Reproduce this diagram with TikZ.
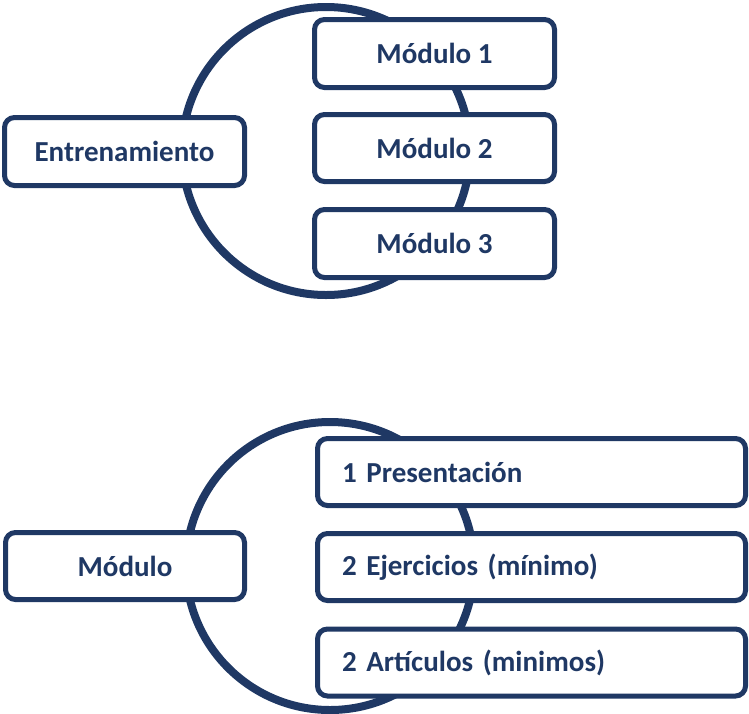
\documentclass[tikz,border=0pt]{standalone}
\usepackage{fontspec}
\setmainfont{Carlito}
\definecolor{navy}{HTML}{1F3864}
\begin{document}
\begin{tikzpicture}[x=1pt,y=-1pt,
  ring/.style={circle, draw=navy, line width=8pt, minimum size=288pt, inner sep=0pt},
  box/.style={rectangle, rounded corners=10pt, draw=navy, line width=5pt, fill=white,
    text=navy, font=\fontsize{29}{34}\selectfont\bfseries, inner sep=0pt,
    minimum width=240pt, minimum height=68pt},
  lbox/.style={box, text width=379pt, align=left, inner xsep=24.5pt, inner ysep=0pt,
    minimum width=428pt, minimum height=67pt}]
\useasboundingbox (0,0) rectangle (749,713);
% top diagram
\node[ring] (ring1) at (326,151) {};
\node[box] (ent) at (124.5,151.5) {Entrenamiento};
\node[box] (m1) at (434.5,53.5) {Módulo 1};
\node[box, minimum height=67pt] (m2) at (434.5,148) {Módulo 2};
\node[box] (m3) at (434.5,243.5) {Módulo 3};
% bottom diagram
\node[ring] (ring2) at (330,566) {};
\node[box, minimum width=239pt, minimum height=67pt] (mod) at (125,566) {Módulo};
\node[lbox] (p1) at (531.5,472) {1 Presentación};
\node[lbox] (p2) at (531.5,567) {2 Ejercicios (mínimo)};
\node[lbox] (p3) at (531.5,662.5) {2 Artículos (minimos)};
\end{tikzpicture}
\end{document}
